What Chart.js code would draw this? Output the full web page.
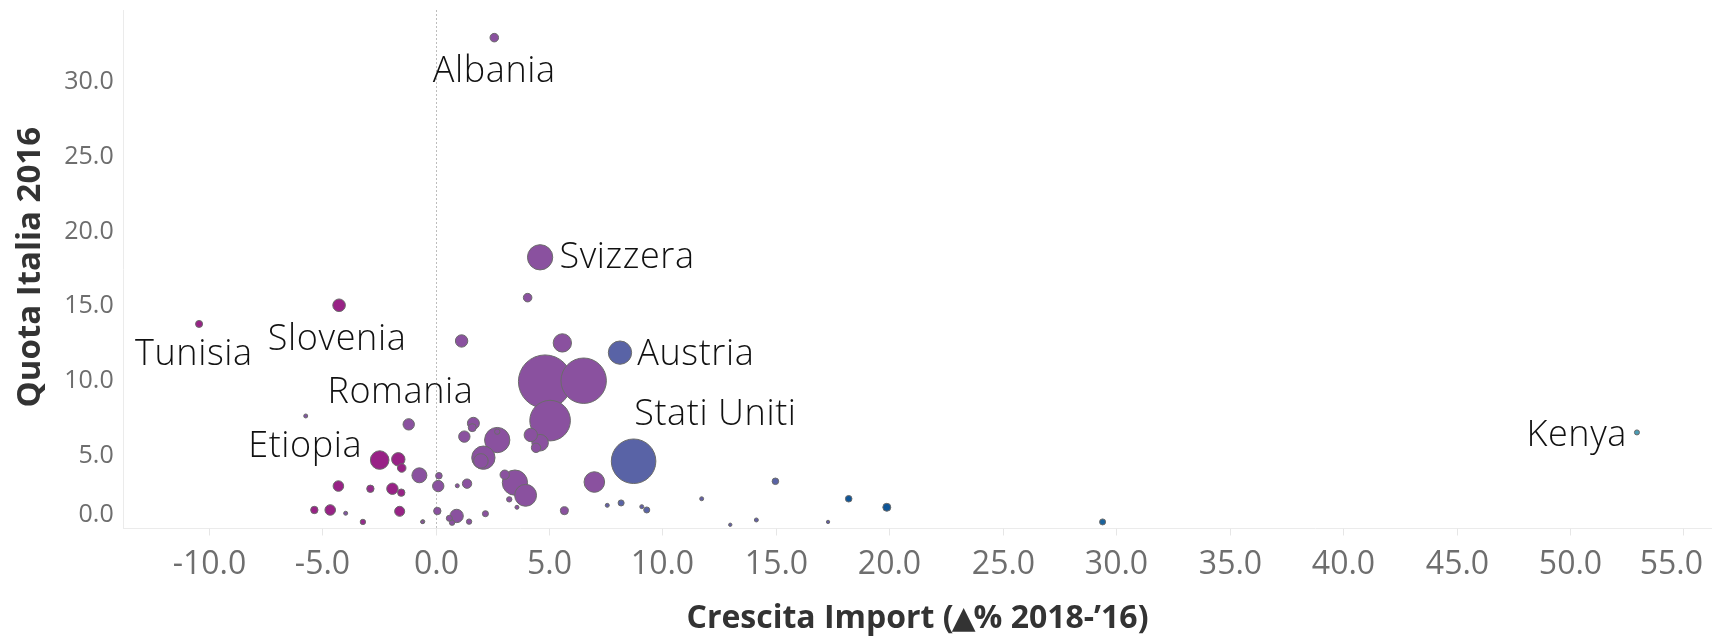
<!DOCTYPE html>
<html>
<head>
<meta charset="utf-8">
<script src="https://cdn.jsdelivr.net/npm/chart.js@4.4.1/dist/chart.umd.min.js"></script>
<style>
  html, body { margin: 0; background: #fff; }
  #wrap { width: 1712px; height: 637px; position: relative; }
</style>
</head>
<body>
<div id="wrap"><canvas id="grafico"></canvas></div>
<script>
// Data
const paesi = [
    "Albania", "Svizzera", "", "Slovenia", "Tunisia", "", "", "Austria", "", "",
    "", "Stati Uniti", "", "", "", "", "", "", "", "",
    "", "", "", "", "", "", "", "", "", "",
    "", "", "", "", "", "", "", "", "", "",
    "", "", "", "", "", "", "Romania", "Etiopia", "", "",
    "", "", "", "", "", "", "", "", "", "",
    "", "", "", "", "", "", "", "", "Kenya"
];
// Crescita Import (% 2018-'16)
const crescitaImport = [
    2.59, 4.61, 4.06, -4.25, -10.42, 1.15, 5.59, 8.13, 4.83, 6.53,
    5.05, 8.73, 7.00, 2.72, 2.72, 2.11, 2.00, 1.67, 1.62, 1.27,
    4.20, 4.61, 4.43, 3.50, 3.97, 3.05, 3.25, 3.59, 5.68, 7.57,
    8.18, 9.09, 9.31, 0.15, 0.12, 0.96, 1.39, -0.71, 0.08, 0.93,
    0.73, 0.61, 1.48, 2.20, -0.56, -5.72, -1.18, -2.46, -1.64, -1.49,
    -4.28, -2.87, -1.90, -1.51, -5.34, -4.64, -3.96, -1.58, -3.20, -0.58,
    11.73, 12.99, 14.14, 14.98, 17.30, 18.21, 19.89, 29.40, 52.95
];
// Quota Italia 2016
const quotaItalia = [
    32.85, 18.15, 15.45, 14.94, 13.69, 12.55, 12.42, 11.77, 9.83, 9.89,
    7.22, 4.50, 3.11, 5.92, 6.48, 4.74, 4.52, 7.04, 6.75, 6.15,
    6.26, 5.74, 5.40, 3.07, 2.22, 3.60, 1.95, 1.42, 1.19, 1.55,
    1.71, 1.46, 1.24, 3.53, 2.84, 2.86, 3.00, 3.56, 1.17, 0.84,
    0.39, 0.68, 0.46, 0.99, 0.46, 7.53, 6.97, 4.58, 4.63, 4.05,
    2.84, 2.66, 2.66, 2.40, 1.24, 1.24, 1.02, 1.15, 0.44, 0.44,
    1.99, 0.25, 0.57, 3.16, 0.44, 1.99, 1.42, 0.44, 6.43
];
// Size measure
const pesoImport = [
    4.6, 40, 4.6, 9.9, 3.1, 9.6, 21, 34, 178, 129,
    103, 124, 26.5, 40, 1.8, 34, 13.3, 9, 4, 8.1,
    11.2, 17.2, 5.5, 40, 30, 5.5, 1.8, 1, 4, 1,
    2.3, 1, 2.3, 2.7, 8.1, 1, 5.5, 14, 3.4, 11.2,
    1.8, 2.3, 1.8, 2.3, 1, 1, 8.1, 21.6, 11.2, 4.6,
    7, 3.4, 8.1, 3.4, 3.4, 7, 1, 6.3, 1.8, 0.7,
    1, 0.7, 1, 2.7, 0.7, 2.7, 4, 2.3, 1.6
];
// Colour measure (0 = magenta, 1 = teal)
const tinta = [
    0.4, 0.4, 0.4, 0.05, 0.05, 0.4, 0.4, 0.65, 0.4, 0.4,
    0.4, 0.65, 0.4, 0.4, 0.4, 0.4, 0.4, 0.4, 0.4, 0.4,
    0.4, 0.4, 0.4, 0.4, 0.4, 0.4, 0.4, 0.4, 0.4, 0.6,
    0.65, 0.6, 0.65, 0.4, 0.4, 0.4, 0.4, 0.4, 0.4, 0.4,
    0.4, 0.4, 0.4, 0.4, 0.4, 0.45, 0.4, 0.05, 0.05, 0.05,
    0.05, 0.12, 0.05, 0.05, 0.05, 0.05, 0.45, 0.05, 0.12, 0.4,
    0.6, 0.6, 0.6, 0.65, 0.6, 0.85, 0.85, 0.88, 1.0
];
const tickX = [-10, -5, 0, 5, 10, 15, 20, 25, 30, 35, 40, 45, 50, 55];
const tickY = [0, 5, 10, 15, 20, 25, 30];

// Styles
const scalaColori = [
    [0, [154, 27, 130]],
    [0.4, [138, 81, 159]],
    [0.65, [89, 99, 166]],
    [0.85, [14, 85, 151]],
    [1, [74, 156, 180]]
];
// label offsets from the dot, in px (baseline anchor)
const etichette = {
    "Albania": { dx: 0, dy: 44.6, align: "center" },
    "Svizzera": { dx: 19.3, dy: 11, align: "left" },
    "Austria": { dx: 17.3, dy: 12.3, align: "left" },
    "Stati Uniti": { dx: 0.6, dy: -36.3, align: "left" },
    "Kenya": { dx: -10, dy: 13.5, align: "right" },
    "Slovenia": { dx: -2, dy: 44.7, align: "center" },
    "Tunisia": { dx: -5.2, dy: 41, align: "center" },
    "Romania": { dx: -8.3, dy: -21, align: "center" },
    "Etiopia": { dx: -17.5, dy: -2.7, align: "right" }
};

function colore(t) {
    for (let i = 1; i < scalaColori.length; i++) {
        const [t1, c1] = scalaColori[i];
        const [t0, c0] = scalaColori[i - 1];
        if (t <= t1) {
            const k = (t - t0) / (t1 - t0);
            const c = c0.map((v, j) => Math.round(v + (c1[j] - v) * k));
            return `rgb(${c[0]},${c[1]},${c[2]})`;
        }
    }
    return "rgb(74,156,180)";
}

// big bubbles first, small ones on top
const ordine = paesi.map((_, i) => i).sort((a, b) => pesoImport[b] - pesoImport[a]);
const punti = ordine.map(i => ({ x: crescitaImport[i], y: quotaItalia[i], r: 2 * Math.sqrt(pesoImport[i]) }));
const coloriPunti = ordine.map(i => colore(tinta[i]));

// draws a string in pieces, each with its own font and a kerning shift
function testoAPezzi(ctx, pezzi, cx, baseY) {
    let tot = 0;
    pezzi.forEach(p => { ctx.font = p.font; p.w = ctx.measureText(p.t).width + (p.k || 0); tot += p.w; });
    let xx = cx - tot / 2;
    ctx.textAlign = "left";
    pezzi.forEach(p => {
        ctx.font = p.font;
        ctx.fillText(p.t, xx + (p.s || 0), baseY);
        xx += p.w;
    });
}

const testi = {
    id: "testi",
    beforeDatasetsDraw(chart) {
        const { ctx, chartArea: a, scales: { x } } = chart;
        const x0 = Math.round(x.getPixelForValue(0)) + 0.5;
        ctx.save();
        ctx.strokeStyle = "#bdbdbd";
        ctx.lineWidth = 1;
        ctx.setLineDash([2, 2]);
        ctx.beginPath();
        ctx.moveTo(x0, a.top);
        ctx.lineTo(x0, a.bottom);
        ctx.stroke();
        ctx.restore();
    },
    afterDraw(chart) {
        const { ctx, chartArea: a, scales: { x, y } } = chart;
        ctx.save();

        // x tick marks and labels
        ctx.strokeStyle = "#e6e6e6";
        ctx.lineWidth = 1;
        ctx.fillStyle = "#6e6e6e";
        ctx.font = '32px "Open Sans"';
        ctx.textAlign = "center";
        ctx.textBaseline = "alphabetic";
        tickX.forEach(v => {
            const px = Math.round(x.getPixelForValue(v)) + 0.5;
            ctx.beginPath();
            ctx.moveTo(px, a.bottom);
            ctx.lineTo(px, a.bottom + 7);
            ctx.stroke();
            const testo = v.toFixed(1);
            const w = ctx.measureText(testo).width;
            const cx = Math.min(px, a.right - 9 - w / 2);
            ctx.fillText(testo, cx, 573.5);
        });

        // y tick labels
        ctx.font = '25px "Open Sans"';
        ctx.textAlign = "right";
        tickY.forEach(v => {
            const py = y.getPixelForValue(v);
            ctx.fillText(v.toFixed(1), 113.7, Math.min(py + 9, a.bottom - 7));
        });

        // axis titles
        ctx.fillStyle = "#333333";
        const bold = 'bold 32px "Open Sans"';
        testoAPezzi(ctx, [
            { t: "Crescita Import (", font: bold },
            { t: "\u25B2", font: 'bold 31px "DejaVu Sans"', k: -4, s: -2 },
            { t: "% 2018-\u201916)", font: bold }
        ], (a.left + a.right) / 2, 628.3);
        ctx.save();
        ctx.translate(39.5, (a.top + a.bottom) / 2 - 2);
        ctx.rotate(-Math.PI / 2);
        ctx.font = 'bold 33px "Open Sans"';
        ctx.textAlign = "center";
        ctx.fillText("Quota Italia 2016", 0, 0);
        ctx.restore();

        // country labels
        ctx.fillStyle = "#111111";
        ctx.font = '300 36px "Open Sans"';
        ctx.letterSpacing = "0.6px";
        paesi.forEach((nome, i) => {
            const e = etichette[nome];
            if (!e) return;
            const px = x.getPixelForValue(crescitaImport[i]);
            const py = y.getPixelForValue(quotaItalia[i]);
            ctx.textAlign = e.align;
            ctx.fillText(nome, px + e.dx, py + e.dy);
        });
        ctx.restore();
    }
};

new Chart(document.getElementById("grafico"), {
    type: "bubble",
    data: {
        datasets: [{
            data: punti,
            backgroundColor: coloriPunti,
            borderColor: "#6b6b6b",
            borderWidth: 1,
            hoverBorderWidth: 1
        }]
    },
    options: {
        responsive: true,
        maintainAspectRatio: false,
        animation: false,
        events: [],
        layout: { autoPadding: false, padding: { top: 10, right: 0, bottom: 0, left: 0 } },
        plugins: { legend: { display: false }, tooltip: { enabled: false } },
        scales: {
            x: {
                type: "linear",
                min: -13.773,
                max: 56.258,
                grid: { display: false },
                border: { display: true, color: "#ebebeb" },
                ticks: { display: false },
                afterFit: s => { s.height = 108.5; }
            },
            y: {
                type: "linear",
                min: 0,
                max: 34.7,
                grid: { display: false },
                border: { display: true, color: "#ebebeb" },
                ticks: { display: false },
                afterFit: s => { s.width = 123; }
            }
        }
    },
    plugins: [testi]
});
</script>
</body>
</html>
